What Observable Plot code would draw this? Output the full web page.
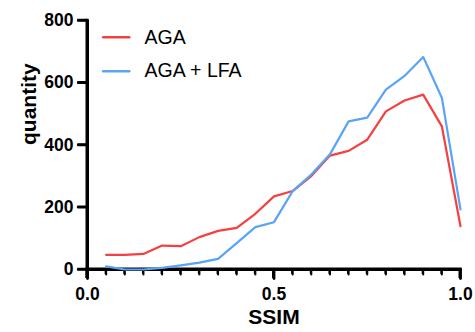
<!DOCTYPE html>
<html>
<head>
<meta charset="utf-8">
<script src="https://cdn.jsdelivr.net/npm/d3@7"></script>
<script src="https://cdn.jsdelivr.net/npm/@observablehq/plot@0.6"></script>
<style>
  html, body { margin: 0; padding: 0; background: white; }
  svg { display: block; }
</style>
</head>
<body>
<div id="chart"></div>
<script>
const ssim = [0.05, 0.1, 0.15, 0.2, 0.25, 0.3, 0.35, 0.4, 0.45, 0.5, 0.55, 0.6, 0.65, 0.7, 0.75, 0.8, 0.85, 0.9, 0.95, 1.0];
const aga = [47, 47, 50, 77, 75, 104, 124, 134, 179, 235, 252, 300, 366, 381, 417, 508, 543, 562, 460, 139];
const agaLfa = [10, 0, 0, 5, 13, 22, 34, 85, 136, 152, 252, 305, 370, 476, 488, 578, 622, 683, 552, 193];
const seriesNames = ["AGA", "AGA + LFA"];
const seriesColors = ["#f44040", "#5aa3f5"];
const yTicks = [0, 200, 400, 600, 800];
const xMajorTicks = [0, 0.5, 1.0];
const xMinorTicks = d3.range(1, 20).map(i => i / 20).filter(v => v !== 0.5);

const rows = [];
ssim.forEach((s, i) => {
  rows.push({ssim: s, quantity: aga[i], series: seriesNames[0], color: seriesColors[0]});
  rows.push({ssim: s, quantity: agaLfa[i], series: seriesNames[1], color: seriesColors[1]});
});

// axis pieces as thin filled rectangles (extents in data units)
const axisRects = [
  {x1: -0.004, x2: 0.004, y1: -29, y2: 804},
  {x1: -0.004, x2: 1.004, y1: -4.8, y2: 4.8}
];
const yTickRects = yTicks.map(v => ({x1: -0.026, x2: 0, y1: v - 4, y2: v + 4}));
const xMinorRects = xMinorTicks.map(v => ({x1: v - 0.0027, x2: v + 0.0027, y1: -16, y2: 0}));
const xMajorRects = xMajorTicks.map(v => ({x1: v - 0.004, x2: v + 0.004, y1: -29, y2: 0}));

// same pieces as stroked segments
const axisFrame = [{x: 0, y: 800, k: "a"}, {x: 0, y: 0, k: "a"}, {x: 1, y: 0, k: "a"}];
const yTickSegs = yTicks.flatMap(v => [{x: 0, y: v, k: "y" + v}, {x: -0.025, y: v, k: "y" + v}]);
const xMinorSegs = xMinorTicks.flatMap(v => [{x: v, y: 0, k: "m" + v}, {x: v, y: -16, k: "m" + v}]);
const xMajorSegs = xMajorTicks.flatMap(v => [{x: v, y: 0, k: "M" + v}, {x: v, y: -29, k: "M" + v}]);

// legend positions in data space
const legend = seriesNames.map((name, i) => ({name, color: seriesColors[i], y: i === 0 ? 746 : 637}));
const legendLines = legend.flatMap(d => [{x: 0.042, y: d.y, name: d.name, color: d.color}, {x: 0.112, y: d.y, name: d.name, color: d.color}]);

const chart = Plot.plot({
  width: 475,
  height: 332,
  marginLeft: 87,
  marginRight: 15,
  marginTop: 20,
  marginBottom: 63,
  style: {fontFamily: "'Liberation Sans', Arial, Helvetica, sans-serif", background: "white", color: "black"},
  x: {domain: [0, 1], axis: null},
  y: {domain: [0, 800], axis: null},
  color: {type: "identity"},
  marks: [
    Plot.rect(axisRects, {x1: "x1", x2: "x2", y1: "y1", y2: "y2", fill: "#000"}),
    Plot.rect(yTickRects, {x1: "x1", x2: "x2", y1: "y1", y2: "y2", fill: "#000"}),
    Plot.rect(xMinorRects, {x1: "x1", x2: "x2", y1: "y1", y2: "y2", fill: "#000"}),
    Plot.rect(xMajorRects, {x1: "x1", x2: "x2", y1: "y1", y2: "y2", fill: "#000"}),
    Plot.line(axisFrame, {x: "x", y: "y", z: "k", stroke: "#000", strokeWidth: 3}),
    Plot.line(yTickSegs, {x: "x", y: "y", z: "k", stroke: "#000", strokeWidth: 2.5}),
    Plot.line(xMinorSegs, {x: "x", y: "y", z: "k", stroke: "#000", strokeWidth: 2}),
    Plot.line(xMajorSegs, {x: "x", y: "y", z: "k", stroke: "#000", strokeWidth: 2.8}),
    Plot.text(yTicks, {x: 0, y: d => d, text: d => String(d), dx: -14, textAnchor: "end", fontSize: 17.5, fontWeight: "bold", fill: "black"}),
    Plot.text(xMajorTicks, {x: d => d, y: 0, dy: 25, text: d => d3.format(".1f")(d), fontSize: 17.5, fontWeight: "bold", fill: "black"}),
    Plot.line(rows, {x: "ssim", y: "quantity", z: "series", stroke: "color", strokeWidth: 2.2}),
    Plot.line(legendLines, {x: "x", y: "y", z: "name", stroke: "color", strokeWidth: 2.5}),
    Plot.text(legend, {x: 0.153, y: "y", text: "name", textAnchor: "start", fontSize: 19.5, fill: "black"}),
    Plot.text(["SSIM"], {frameAnchor: "bottom", dy: 54, fontSize: 21, fontWeight: "bold", fill: "black"}),
    Plot.text(["quantity"], {frameAnchor: "left", dx: -58, rotate: -90, fontSize: 21, fontWeight: "bold", fill: "black"})
  ]
});
document.getElementById("chart").appendChild(chart);
</script>
</body>
</html>
